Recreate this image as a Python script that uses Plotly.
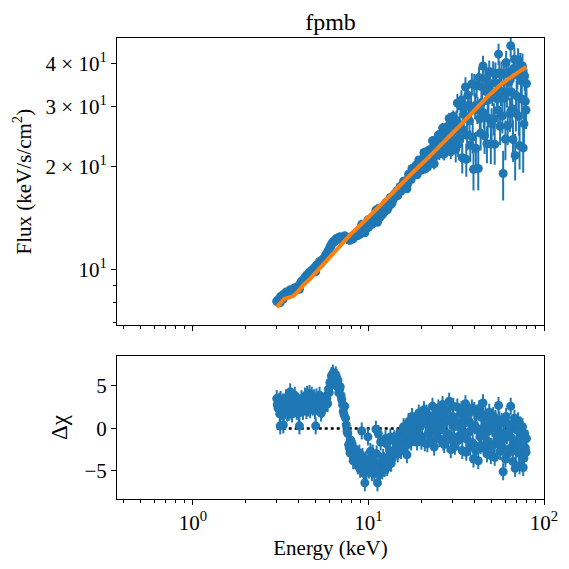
import plotly.graph_objects as go
from plotly.subplots import make_subplots

# fpmb spectrum: energy (keV), unfolded flux, flux error and residual (delta chi)
energy = [3.00, 3.05, 3.10, 3.14, 3.18, 3.22, 3.27, 3.31, 3.36, 3.41,
          3.46, 3.52, 3.58, 3.64, 3.70, 3.76, 3.83, 3.90, 3.97, 4.04,
          4.11, 4.19, 4.27, 4.35, 4.43, 4.52, 4.61, 4.70, 4.80, 4.90,
          5.00, 5.10, 5.21, 5.32, 5.43, 5.55, 5.67, 5.79, 5.91, 6.03,
          6.15, 6.27, 6.39, 6.51, 6.64, 6.77, 6.90, 7.04, 7.18, 7.32,
          7.47, 7.62, 7.77, 7.93, 8.09, 8.26, 8.43, 8.60, 8.78, 8.96,
          9.15, 9.34, 9.53, 9.73, 9.93,
          10.14, 10.35, 10.57, 10.79, 11.02, 11.25, 11.49, 11.73, 11.98, 12.24,
          12.50, 12.77, 13.05, 13.33, 13.62, 13.92, 14.22, 14.53, 14.85, 15.17,
          15.50, 15.84, 16.19, 16.55, 16.92, 17.30, 17.69, 18.09, 18.50, 18.92,
          19.35, 19.79,
          20.24, 20.70, 21.17, 21.65, 22.14, 22.64, 23.15, 23.67, 24.20, 24.74,
          25.29, 25.85, 26.42, 27.00, 27.60, 28.20, 28.82, 29.45, 30.09, 30.74,
          31.41, 32.09, 32.78, 33.49, 34.21, 34.94, 35.69, 36.45, 37.23, 38.02,
          38.83, 39.65, 40.49, 41.34, 42.21, 43.10, 44.00, 44.92, 45.86, 46.81,
          47.78, 48.77, 49.78, 50.80, 51.84, 52.90, 53.98, 55.08, 56.20, 57.34,
          58.50, 59.68, 60.88, 62.10, 63.34, 64.60, 65.88, 67.18, 68.50, 69.84,
          71.20, 72.58, 73.98, 75.40, 76.84, 78.30, 79.50,
          # second set of channels
          3.02, 3.07, 3.12, 3.16, 3.20, 3.25, 3.29, 3.34, 3.39, 3.44,
          3.49, 3.55, 3.61, 3.67, 3.73, 3.80, 3.86, 3.93, 4.00, 4.07,
          4.15, 4.23, 4.31, 4.39, 4.47, 4.56, 4.65, 4.75, 4.85, 4.95,
          5.05, 5.16, 5.26, 5.37, 5.49, 5.61, 5.73, 5.85, 5.97,
          6.09, 6.21, 6.33, 6.45, 6.58, 6.70, 6.84, 6.97, 7.11, 7.25,
          7.40, 7.55, 7.70, 7.85, 8.01, 8.18, 8.35, 8.52, 8.69, 8.87,
          9.05, 9.25, 9.44, 9.63, 9.83,
          10.04, 10.25, 10.46, 10.68, 10.90, 11.13, 11.37, 11.61, 11.85, 12.11,
          12.37, 12.63, 12.91, 13.19, 13.47, 13.77, 14.07, 14.37, 14.69, 15.01,
          15.33, 15.67, 16.01, 16.37, 16.73, 17.11, 17.49, 17.89, 18.29, 18.71,
          19.13, 19.57, 20.01,
          20.47, 20.93, 21.41, 21.89, 22.39, 22.89, 23.41, 23.93, 24.47, 25.01,
          25.57, 26.13, 26.71, 27.30, 27.90, 28.51, 29.13, 29.77, 30.41, 31.07,
          31.75, 32.43, 33.13, 33.85, 34.57, 35.31, 36.07, 36.84, 37.62, 38.42,
          39.24, 40.07, 40.91, 41.77, 42.65, 43.55, 44.46, 45.39, 46.33, 47.29,
          48.27, 49.27, 50.29, 51.32, 52.37, 53.44, 54.53, 55.64, 56.77, 57.92,
          59.09, 60.28, 61.49, 62.72, 63.97, 65.24, 66.53, 67.84, 69.17, 70.52,
          71.89, 73.28, 74.69, 76.12, 77.57, 79.00]

flux = [8.08, 8.06, 8.22, 8.01, 8.29, 8.38, 8.20, 8.41, 8.52, 8.48,
        8.52, 8.47, 8.73, 8.53, 8.68, 8.64, 8.75, 8.76, 8.85, 8.75,
        9.13, 9.20, 9.30, 9.52, 9.41, 9.54, 9.82, 9.82, 9.86, 10.11,
        9.84, 10.25, 10.37, 10.57, 10.54, 10.70, 10.92, 11.12, 11.39, 11.64,
        11.87, 12.04, 12.08, 12.28, 12.23, 12.24, 12.47, 12.40, 12.33, 12.55,
        12.36, 12.34, 12.21, 12.48, 12.38, 12.42, 12.67, 12.58, 12.83, 12.69,
        13.56, 13.10, 12.81, 13.17, 13.98,
        13.63, 13.59, 14.07, 13.76, 14.93, 13.76, 14.35, 15.11, 14.45, 14.89,
        15.68, 14.96, 15.47, 16.26, 15.69, 16.50, 16.35, 16.98, 16.80, 17.51,
        17.25, 18.15, 17.84, 17.23, 19.03, 18.54, 19.78, 19.26, 19.99, 18.95,
        20.94, 20.38,
        19.83, 22.03, 21.28, 19.91, 22.40, 21.33, 23.85, 20.40, 23.04, 24.22,
        21.80, 23.44, 25.95, 21.81, 24.92, 23.54, 27.70, 22.11, 26.55, 25.50,
        22.50, 30.73, 24.31, 30.13, 21.25, 28.44, 34.23, 24.71, 30.25, 23.11,
        34.95, 19.65, 30.18, 34.54, 19.77, 27.65, 34.33, 39.46, 24.63, 33.20,
        27.78, 37.99, 23.33, 33.08, 27.69, 37.36, 31.59, 42.72, 26.25, 37.50,
        19.11, 31.76, 40.39, 26.37, 35.41, 45.21, 29.59, 38.80, 21.59, 32.25,
        41.02, 23.07, 35.69, 39.42, 26.69, 31.09, 35.04,
        # second set of channels
        8.04, 8.15, 8.11, 8.34, 8.25, 8.43, 8.34, 8.48, 8.59, 8.43,
        8.57, 8.52, 8.66, 8.51, 8.66, 8.85, 8.74, 8.90, 8.85, 9.06,
        9.24, 9.19, 9.40, 9.41, 9.66, 9.65, 9.66, 9.96, 9.97, 9.99,
        10.29, 10.28, 10.56, 10.43, 10.72, 10.80, 11.08, 11.11, 11.42,
        11.66, 11.91, 12.06, 12.11, 12.31, 12.38, 12.38, 12.42, 12.38, 12.34,
        12.42, 12.31, 12.22, 12.18, 12.42, 12.30, 12.65, 12.60, 12.58, 12.93,
        12.86, 13.14, 12.93, 13.33, 13.32,
        13.32, 13.88, 13.56, 13.97, 14.02, 14.40, 15.08, 14.21, 14.67, 14.91,
        14.76, 15.60, 15.12, 15.75, 15.53, 15.98, 16.66, 16.67, 16.46, 17.10,
        16.97, 17.63, 17.42, 18.23, 17.81, 18.84, 18.35, 19.52, 18.94, 20.24,
        19.53, 20.63, 19.54,
        21.12, 19.73, 22.15, 20.83, 21.70, 20.68, 22.89, 22.29, 21.67, 24.78,
        22.79, 24.60, 21.97, 24.40, 26.14, 22.98, 25.52, 23.87, 28.10, 23.05,
        27.30, 23.31, 26.57, 31.35, 25.67, 29.89, 21.02, 32.41, 27.26, 29.76,
        24.46, 34.75, 22.64, 29.35, 36.48, 25.06, 30.91, 28.73, 36.16, 23.34,
        31.41, 34.94, 26.69, 37.72, 23.28, 35.09, 29.27, 37.63, 33.27, 28.17,
        37.29, 24.10, 33.01, 37.83, 28.60, 33.11, 24.03, 41.28, 28.73, 37.07,
        28.08, 39.62, 31.57, 22.71, 36.88, 29.32]

flux_err = [0.09, 0.09, 0.10, 0.10, 0.10, 0.10, 0.10, 0.10, 0.10, 0.10,
            0.10, 0.10, 0.10, 0.10, 0.10, 0.10, 0.10, 0.10, 0.10, 0.10,
            0.11, 0.11, 0.11, 0.11, 0.11, 0.11, 0.11, 0.11, 0.11, 0.12,
            0.12, 0.12, 0.12, 0.12, 0.12, 0.12, 0.13, 0.13, 0.13, 0.13,
            0.13, 0.13, 0.14, 0.14, 0.14, 0.14, 0.14, 0.14, 0.14, 0.15,
            0.15, 0.15, 0.15, 0.15, 0.15, 0.16, 0.16, 0.16, 0.16, 0.16,
            0.16, 0.16, 0.17, 0.17, 0.17,
            0.19, 0.19, 0.19, 0.19, 0.19, 0.21, 0.21, 0.22, 0.23, 0.24,
            0.24, 0.26, 0.26, 0.26, 0.28, 0.29, 0.29, 0.31, 0.32, 0.32,
            0.36, 0.36, 0.37, 0.41, 0.41, 0.42, 0.46, 0.46, 0.47, 0.51,
            0.52, 0.53,
            0.61, 0.62, 0.63, 0.68, 0.68, 0.69, 0.77, 0.77, 0.78, 0.86,
            0.87, 0.88, 0.93, 0.94, 0.95, 1.01, 1.03, 1.04, 1.12, 1.14,
            1.92, 1.94, 2.10, 2.12, 2.15, 2.17, 2.33, 2.36, 2.39, 2.42,
            2.59, 2.62, 2.65, 2.67, 2.70, 2.74, 2.77, 2.80, 2.83, 2.86,
            2.89, 2.92, 2.95, 2.98, 3.01, 3.03, 3.06, 3.09, 3.12, 3.15,
            3.18, 3.20, 3.23, 3.25, 3.28, 3.30, 3.32, 3.34, 3.37, 3.39,
            3.42, 3.44, 3.46, 3.48, 3.51, 3.53, 3.54,
            # second set of channels
            0.09, 0.09, 0.10, 0.10, 0.10, 0.10, 0.10, 0.10, 0.10, 0.10,
            0.10, 0.10, 0.10, 0.10, 0.10, 0.10, 0.10, 0.10, 0.10, 0.11,
            0.11, 0.11, 0.11, 0.11, 0.11, 0.11, 0.11, 0.11, 0.12, 0.12,
            0.12, 0.12, 0.12, 0.12, 0.12, 0.13, 0.13, 0.13, 0.13,
            0.13, 0.13, 0.13, 0.14, 0.14, 0.14, 0.14, 0.14, 0.14, 0.15,
            0.15, 0.15, 0.15, 0.15, 0.15, 0.15, 0.16, 0.16, 0.16, 0.16,
            0.16, 0.16, 0.17, 0.17, 0.17,
            0.18, 0.19, 0.19, 0.19, 0.19, 0.21, 0.21, 0.22, 0.22, 0.24,
            0.24, 0.26, 0.26, 0.26, 0.27, 0.29, 0.29, 0.29, 0.31, 0.32,
            0.32, 0.36, 0.36, 0.37, 0.41, 0.41, 0.42, 0.46, 0.47, 0.47,
            0.52, 0.52, 0.53,
            0.62, 0.62, 0.63, 0.68, 0.69, 0.70, 0.77, 0.78, 0.79, 0.86,
            0.87, 0.93, 0.94, 0.95, 1.01, 1.02, 1.03, 1.12, 1.13, 1.15,
            1.93, 1.95, 2.11, 2.13, 2.16, 2.18, 2.34, 2.37, 2.40, 2.43,
            2.60, 2.63, 2.66, 2.69, 2.72, 2.75, 2.78, 2.81, 2.84, 2.88,
            2.91, 2.93, 2.96, 2.99, 3.02, 3.05, 3.08, 3.11, 3.14, 3.16,
            3.18, 3.21, 3.23, 3.26, 3.28, 3.31, 3.33, 3.35, 3.38, 3.40,
            3.42, 3.44, 3.47, 3.49, 3.51, 3.53]

resid = [3.5, 2.4, 3.2, 0.3, 2.6, 2.9, 0.4, 2.2, 3.0, 2.4,
         2.6, 1.9, 4.3, 2.0, 3.3, 2.3, 2.7, 2.0, 2.2, 0.3,
         3.0, 2.6, 2.6, 3.8, 2.1, 2.4, 4.1, 3.2, 2.5, 3.6,
         0.3, 2.8, 2.8, 3.4, 2.2, 2.4, 3.0, 3.5, 4.6, 5.4,
         6.2, 6.5, 5.8, 6.3, 5.0, 4.2, 4.9, 3.4, 2.0, 2.6,
         0.4, -0.6, -2.3, -1.4, -2.8, -3.4, -2.6, -4.0, -3.2, -4.8,
         -0.3, -3.9, -6.4, -5.0, -1.0,
         -3.6, -4.6, -2.9, -5.3, -0.1, -6.4, -4.4, -1.6, -5.0, -3.8,
         -1.2, -4.6, -3.3, -1.0, -3.6, -1.4, -2.6, -1.0, -2.2, -0.6,
         -1.8, 0.2, -1.2, -3.1, 0.8, -0.9, 1.4, -0.2, 0.9, -1.6,
         1.8, 0.3,
         -1.0, 2.2, 0.6, -1.8, 1.5, -0.4, 2.6, -2.2, 0.9, 1.9,
         -1.2, 0.4, 2.8, -1.9, 1.1, -0.6, 3.2, -2.5, 1.4, 0.2,
         -1.6, 2.5, -0.9, 1.7, -2.6, 0.6, 2.9, -1.3, 0.9, -2.2,
         2.4, -3.6, 0.3, 1.8, -3.8, -1.0, 1.3, 3.0, -2.4, 0.5,
         -1.5, 1.9, -3.2, 0.0, -1.9, 1.2, -0.8, 2.7, -2.7, 0.8,
         -5.1, -1.2, 1.4, -3.0, -0.3, 2.6, -2.2, 0.5, -4.7, -1.6,
         0.9, -4.4, -0.8, 0.2, -3.5, -2.3, -1.2,
         # second set of channels
         2.8, 3.0, 1.7, 3.4, 2.0, 3.1, 1.6, 2.7, 3.6, 1.8,
         3.0, 2.3, 3.5, 1.7, 2.8, 3.9, 2.3, 3.1, 1.8, 2.9,
         3.5, 2.0, 3.1, 2.5, 4.0, 3.0, 2.2, 3.9, 2.9, 2.1,
         3.7, 2.5, 3.9, 1.8, 3.1, 2.6, 3.8, 2.9, 4.2,
         5.0, 5.9, 6.1, 5.5, 6.0, 5.6, 4.6, 3.9, 2.8, 1.6,
         1.2, -0.4, -1.9, -2.9, -2.2, -3.8, -2.4, -3.5, -4.4, -2.9,
         -4.2, -3.3, -5.3, -3.7, -4.5,
         -4.9, -2.7, -5.2, -3.8, -4.4, -3.0, -0.6, -5.4, -4.0, -3.4,
         -4.7, -1.8, -4.3, -2.6, -4.1, -2.9, -1.2, -1.8, -3.0, -1.6,
         -2.6, -1.0, -2.1, -0.4, -1.9, 0.1, -1.6, 0.6, -1.1, 1.2,
         -0.7, 1.0, -1.5,
         0.9, -1.7, 1.8, -0.6, 0.3, -1.5, 1.2, 0.1, -1.0, 2.4,
         -0.2, 1.5, -1.6, 0.7, 2.1, -1.3, 0.9, -0.9, 2.6, -2.1,
         0.8, -1.4, 0.1, 2.2, -0.6, 1.2, -2.8, 1.9, -0.4, 0.5,
         -1.7, 2.1, -2.6, -0.2, 2.3, -2.0, 0.0, -0.9, 1.6, -3.0,
         -0.3, 0.8, -2.1, 1.5, -3.4, 0.4, -1.6, 1.0, -0.5, -2.2,
         0.6, -3.6, -0.9, 0.5, -2.4, -1.1, -3.9, 1.2, -2.6, -0.2,
         -2.9, 0.4, -2.0, -4.6, -0.6, -2.8]

# best-fit model curve
model_energy = [3.0, 3.15, 3.3, 3.5, 3.7, 3.95, 4.25, 4.6, 5.0, 5.5,
                6.0, 6.6, 7.3, 8.0, 9.0, 10.0, 11.5, 13.0, 15.0, 18.0,
                22.0, 27.0, 33.0, 40.0, 48.0, 57.0, 67.0, 79.0]
model_flux = [7.75, 8.0, 8.2, 8.27, 8.35, 8.6, 9.0, 9.35, 9.8, 10.35,
              10.9, 11.5, 12.15, 12.75, 13.5, 14.2, 15.3, 16.3, 17.6, 19.3,
              21.3, 23.6, 26.3, 29.2, 32.2, 34.9, 37.1, 39.2]

assert len(energy) == len(flux) == len(flux_err) == len(resid), (
    len(energy), len(flux), len(flux_err), len(resid))

blue = "#1f77b4"
orange = "#ff7f0e"
font = "Liberation Serif, DejaVu Serif, serif"

fig = make_subplots(rows=2, cols=1, shared_xaxes=True)

fig.add_trace(go.Scatter(x=energy, y=flux, mode="markers",
                         marker=dict(color=blue, size=9),
                         error_y=dict(type="data", array=flux_err, color=blue,
                                      thickness=2, width=0),
                         showlegend=False), row=1, col=1)
fig.add_trace(go.Scatter(x=model_energy, y=model_flux, mode="lines",
                         line=dict(color=orange, width=4),
                         showlegend=False), row=1, col=1)

fig.add_trace(go.Scatter(x=[min(energy), max(energy)], y=[0, 0], mode="lines",
                         line=dict(color="black", width=2.5, dash="dot"),
                         showlegend=False), row=2, col=1)
fig.add_trace(go.Scatter(x=energy, y=resid, mode="markers",
                         marker=dict(color=blue, size=9),
                         error_y=dict(type="constant", value=1.0, color=blue,
                                      thickness=2, width=0),
                         showlegend=False), row=2, col=1)

minor_x = [0.4, 0.5, 0.6, 0.7, 0.8, 0.9, 2, 3, 4, 5, 6, 7, 8, 9,
           20, 30, 40, 50, 60, 70, 80, 90]
axis_common = dict(showline=True, linecolor="black", linewidth=1, mirror=True,
                   ticks="outside", ticklen=5, tickcolor="black",
                   showgrid=False, zeroline=False,
                   tickfont=dict(family=font, size=21, color="black"))

fig.update_xaxes(type="log", range=[-0.433, 2],
                 tickvals=[1, 10, 100],
                 ticktext=["10<sup>0</sup>", "10<sup>1</sup>", "10<sup>2</sup>"],
                 minor=dict(ticks="outside", ticklen=3, tickcolor="black",
                            tickvals=minor_x, showgrid=False),
                 **axis_common)
fig.update_xaxes(showticklabels=False, row=1, col=1)
fig.update_xaxes(title=dict(text="Energy (keV)", standoff=6,
                            font=dict(family=font, size=21, color="black")),
                 row=2, col=1)

fig.update_yaxes(type="log", range=[0.837, 1.678],
                 tickvals=[10, 20, 30, 40],
                 ticktext=["10<sup>1</sup>", "2 × 10<sup>1</sup>",
                           "3 × 10<sup>1</sup>", "4 × 10<sup>1</sup>"],
                 minor=dict(ticks="outside", ticklen=3, tickcolor="black",
                            tickvals=[7, 8, 9], showgrid=False),
                 title=dict(text="Flux (keV/s/cm<sup>2</sup>)", standoff=8,
                            font=dict(family=font, size=21, color="black")),
                 domain=[0.377, 1.0], row=1, col=1, **axis_common)
fig.update_yaxes(range=[-8.3, 8.5], tickvals=[-5, 0, 5],
                 ticktext=["−5", "0", "5"],
                 title=dict(text="Δχ", standoff=10,
                            font=dict(family=font, size=23, color="black")),
                 domain=[0.0, 0.310], row=2, col=1, **axis_common)

fig.update_layout(
    width=569, height=569,
    margin=dict(l=117, r=25, t=38, b=70),
    plot_bgcolor="white", paper_bgcolor="white",
    font=dict(family=font, size=21, color="black"),
    title=dict(text="fpmb", x=0.5, xref="paper", y=0.962, yanchor="middle",
               font=dict(family=font, size=24, color="black")),
)

fig.write_html("out.html", config={"displayModeBar": False},
               post_script="document.body.style.margin='0px';")
